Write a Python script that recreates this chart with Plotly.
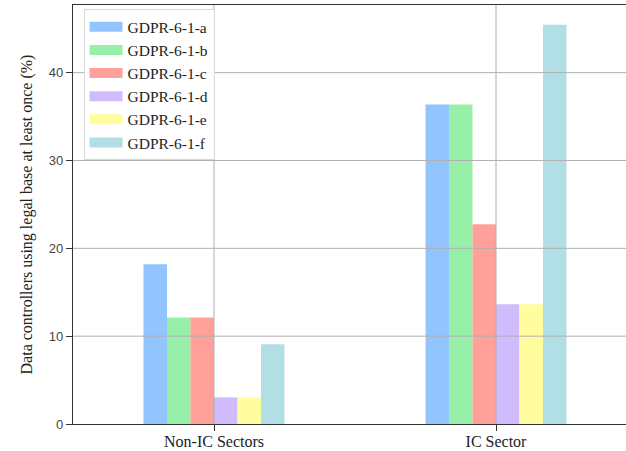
import plotly.graph_objects as go

categories = ["Non-IC Sectors", "IC Sector"]
series_names = ["GDPR-6-1-a", "GDPR-6-1-b", "GDPR-6-1-c", "GDPR-6-1-d", "GDPR-6-1-e", "GDPR-6-1-f"]
values_a = [18.18, 36.36]
values_b = [12.12, 36.36]
values_c = [12.12, 22.73]
values_d = [3.03, 13.64]
values_e = [3.03, 13.64]
values_f = [9.09, 45.45]
series_values = [values_a, values_b, values_c, values_d, values_e, values_f]
colors = ["#92C5FE", "#98EFA7", "#FFA09A", "#D0BBFD", "#FFFD9E", "#B2DFE5"]
y_ticks = [0, 10, 20, 30, 40]

serif = "Liberation Serif"
sans = "Liberation Sans"

fig = go.Figure()
for name, vals, col in zip(series_names, series_values, colors):
    fig.add_trace(go.Bar(x=categories, y=vals, name=name, marker=dict(color=col, line=dict(width=0)),
                         showlegend=False))
for name, col in zip(series_names, colors):
    fig.add_trace(go.Scatter(x=[None], y=[None], mode="lines", name=name,
                             line=dict(color=col, width=11)))

# grid lines drawn above bars
for t in y_ticks[1:]:
    fig.add_shape(type="line", xref="paper", yref="y", x0=0, x1=1, y0=t, y1=t,
                  line=dict(color="#b0b0b0", width=1), layer="above")
for c in categories:
    fig.add_shape(type="line", xref="x", yref="paper", x0=c, x1=c, y0=0, y1=1,
                  line=dict(color="#b0b0b0", width=1), layer="above")

fig.update_layout(
    width=626, height=451,
    margin=dict(l=73, r=0, t=5, b=27, autoexpand=False),
    plot_bgcolor="white", paper_bgcolor="white",
    font=dict(family=serif, color="#222"),
    barmode="group", bargap=0.5, bargroupgap=0,
    legend=dict(x=0.019, y=0.99, xanchor="left", yanchor="top",
                bgcolor="rgba(255,255,255,0.85)", bordercolor="#d8d8d8", borderwidth=1,
                font=dict(family=serif, size=15.5, color="#222"), itemwidth=33),
)
fig.update_xaxes(range=[-0.5, 1.461], showgrid=False, ticks="outside", ticklen=6, tickcolor="#333",
                 showline=True, linecolor="#333", linewidth=1.3, mirror=True, automargin=False,
                 ticklabelstandoff=-3,
                 tickfont=dict(family=serif, size=16, color="#222"))
fig.update_yaxes(range=[0, 47.7], tickvals=y_ticks, showgrid=False, ticks="outside", ticklen=6,
                 tickcolor="#333", showline=True, linecolor="#333", linewidth=1.3, zeroline=False,
                 automargin=False,
                 tickfont=dict(family=sans, size=13, color="#444"),
                 title=dict(text="Data controllers using legal base at least once (%)",
                            font=dict(family=serif, size=16, color="#222"), standoff=12))

fig.write_html("out.html", config={"displayModeBar": False},
               post_script="document.body.style.margin='0';")
